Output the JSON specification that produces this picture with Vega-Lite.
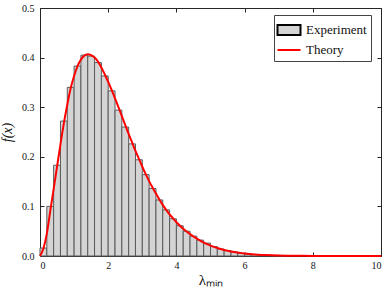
{
  "$schema": "https://vega.github.io/schema/vega-lite/v6.json",
  "width": 341,
  "height": 248,
  "autosize": "none",
  "padding": {"left": 40, "top": 8, "right": 8, "bottom": 36},
  "background": "white",
  "config": {
    "view": {"stroke": "#262626", "strokeWidth": 1},
    "font": "Liberation Serif",
    "axis": {"grid": false, "domainColor": "#262626", "tickColor": "#262626", "labelColor": "#111", "titleColor": "#111", "labelFont": "Liberation Serif", "titleFont": "Liberation Serif", "labelFontSize": 10, "titleFontWeight": "normal"},
    "legend": {"title": null, "orient": "none", "legendX": 234, "legendY": 7, "strokeColor": "#444", "fillColor": "white", "padding": 4, "labelFontSize": 13, "labelFont": "Liberation Serif", "labelColor": "#111", "symbolSize": 400, "rowPadding": -10, "labelOffset": 6, "symbolStrokeWidth": 2, "symbolOpacity": 1}
  },
  "datasets": {
    "hist": [
      {"start": 0.0, "end": 0.2, "f": 0.016},
      {"start": 0.2, "end": 0.4, "f": 0.100},
      {"start": 0.4, "end": 0.6, "f": 0.183},
      {"start": 0.6, "end": 0.8, "f": 0.272},
      {"start": 0.8, "end": 1.0, "f": 0.340},
      {"start": 1.0, "end": 1.2, "f": 0.383},
      {"start": 1.2, "end": 1.4, "f": 0.405},
      {"start": 1.4, "end": 1.6, "f": 0.403},
      {"start": 1.6, "end": 1.8, "f": 0.390},
      {"start": 1.8, "end": 2.0, "f": 0.363},
      {"start": 2.0, "end": 2.2, "f": 0.333},
      {"start": 2.2, "end": 2.4, "f": 0.294},
      {"start": 2.4, "end": 2.6, "f": 0.260},
      {"start": 2.6, "end": 2.8, "f": 0.226},
      {"start": 2.8, "end": 3.0, "f": 0.194},
      {"start": 3.0, "end": 3.2, "f": 0.164},
      {"start": 3.2, "end": 3.4, "f": 0.136},
      {"start": 3.4, "end": 3.6, "f": 0.113},
      {"start": 3.6, "end": 3.8, "f": 0.093},
      {"start": 3.8, "end": 4.0, "f": 0.075},
      {"start": 4.0, "end": 4.2, "f": 0.061},
      {"start": 4.2, "end": 4.4, "f": 0.050},
      {"start": 4.4, "end": 4.6, "f": 0.040},
      {"start": 4.6, "end": 4.8, "f": 0.032},
      {"start": 4.8, "end": 5.0, "f": 0.026},
      {"start": 5.0, "end": 5.2, "f": 0.019},
      {"start": 5.2, "end": 5.4, "f": 0.014},
      {"start": 5.4, "end": 5.6, "f": 0.011},
      {"start": 5.6, "end": 5.8, "f": 0.008},
      {"start": 5.8, "end": 6.0, "f": 0.006},
      {"start": 6.0, "end": 6.2, "f": 0.004},
      {"start": 6.2, "end": 6.4, "f": 0.003},
      {"start": 6.4, "end": 6.6, "f": 0.002},
      {"start": 6.6, "end": 6.8, "f": 0.0015},
      {"start": 6.8, "end": 7.0, "f": 0.001},
      {"start": 7.0, "end": 7.2, "f": 0.0007}
    ],
    "theory": [
      {"x": 0.0, "f": 0.0},
      {"x": 0.1, "f": 0.015},
      {"x": 0.2, "f": 0.045},
      {"x": 0.3, "f": 0.09},
      {"x": 0.4, "f": 0.135},
      {"x": 0.5, "f": 0.18},
      {"x": 0.6, "f": 0.225},
      {"x": 0.7, "f": 0.268},
      {"x": 0.8, "f": 0.305},
      {"x": 0.9, "f": 0.338},
      {"x": 1.0, "f": 0.363},
      {"x": 1.1, "f": 0.383},
      {"x": 1.2, "f": 0.396},
      {"x": 1.3, "f": 0.404},
      {"x": 1.4, "f": 0.407},
      {"x": 1.5, "f": 0.405},
      {"x": 1.6, "f": 0.400},
      {"x": 1.7, "f": 0.392},
      {"x": 1.8, "f": 0.380},
      {"x": 1.9, "f": 0.366},
      {"x": 2.0, "f": 0.351},
      {"x": 2.1, "f": 0.335},
      {"x": 2.2, "f": 0.318},
      {"x": 2.3, "f": 0.300},
      {"x": 2.4, "f": 0.282},
      {"x": 2.5, "f": 0.264},
      {"x": 2.6, "f": 0.246},
      {"x": 2.7, "f": 0.229},
      {"x": 2.8, "f": 0.212},
      {"x": 2.9, "f": 0.196},
      {"x": 3.0, "f": 0.180},
      {"x": 3.1, "f": 0.165},
      {"x": 3.2, "f": 0.151},
      {"x": 3.3, "f": 0.138},
      {"x": 3.4, "f": 0.126},
      {"x": 3.5, "f": 0.114},
      {"x": 3.6, "f": 0.103},
      {"x": 3.7, "f": 0.093},
      {"x": 3.8, "f": 0.084},
      {"x": 3.9, "f": 0.076},
      {"x": 4.0, "f": 0.068},
      {"x": 4.2, "f": 0.055},
      {"x": 4.4, "f": 0.044},
      {"x": 4.6, "f": 0.035},
      {"x": 4.8, "f": 0.027},
      {"x": 5.0, "f": 0.021},
      {"x": 5.2, "f": 0.016},
      {"x": 5.4, "f": 0.012},
      {"x": 5.6, "f": 0.009},
      {"x": 5.8, "f": 0.007},
      {"x": 6.0, "f": 0.005},
      {"x": 6.3, "f": 0.003},
      {"x": 6.6, "f": 0.002},
      {"x": 7.0, "f": 0.001},
      {"x": 7.5, "f": 0.0005},
      {"x": 8.0, "f": 0.0002},
      {"x": 9.0, "f": 0.0},
      {"x": 10.0, "f": 0.0}
    ],
    "legendkeys": []
  },
  "resolve": {"axis": {"x": "independent", "y": "independent"}},
  "layer": [
    {
      "data": {"name": "hist"},
      "mark": {"type": "bar", "fill": "#d4d4d4", "stroke": "#5a5a5a", "strokeWidth": 1, "fillOpacity": 1, "orient": "vertical"},
      "encoding": {
        "x": {"field": "start", "type": "quantitative", "scale": {"domain": [0, 10], "nice": false, "padding": 0},
          "axis": {"orient": "bottom", "title": "λₘᵢₙ", "titleFontSize": 15, "titlePadding": 2, "values": [0, 2, 4, 6, 8, 10], "tickSize": -4, "labelPadding": 8, "format": "d"}},
        "x2": {"field": "end"},
        "y": {"field": "f", "type": "quantitative", "scale": {"domain": [0, 0.5], "nice": false, "padding": 0},
          "axis": {"orient": "left", "title": "f(x)", "titleFontSize": 14, "titleFontStyle": "italic", "titlePadding": 7, "values": [0, 0.1, 0.2, 0.3, 0.4, 0.5], "format": ".1f", "tickSize": -4, "labelPadding": 10}},
        "y2": {"datum": 0}
      }
    },
    {
      "data": {"name": "theory"},
      "mark": {"type": "line", "color": "#ff0000", "strokeWidth": 2, "interpolate": "monotone"},
      "encoding": {
        "x": {"field": "x", "type": "quantitative", "scale": {"domain": [0, 10], "nice": false, "padding": 0},
          "axis": {"orient": "top", "title": null, "labels": false, "domain": false, "values": [0, 2, 4, 6, 8, 10], "tickSize": -4}},
        "y": {"field": "f", "type": "quantitative", "scale": {"domain": [0, 0.5], "nice": false, "padding": 0},
          "axis": {"orient": "right", "title": null, "labels": false, "domain": false, "values": [0, 0.1, 0.2, 0.3, 0.4, 0.5], "tickSize": -4}}
      }
    },
    {
      "data": {"name": "legendkeys"},
      "mark": {"type": "point", "filled": true, "opacity": 1},
      "encoding": {
        "x": {"field": "x", "type": "quantitative", "scale": {"domain": [0, 10], "nice": false, "padding": 0}, "axis": null},
        "y": {"field": "f", "type": "quantitative", "scale": {"domain": [0, 0.5], "nice": false, "padding": 0}, "axis": null},
        "fill": {"field": "series", "type": "nominal",
          "scale": {"domain": ["Experiment", "Theory"], "range": ["#d4d4d4", "#ff0000"]}},
        "stroke": {"field": "series", "type": "nominal",
          "scale": {"domain": ["Experiment", "Theory"], "range": ["#000000", "#ff0000"]}},
        "shape": {"field": "series", "type": "nominal",
          "scale": {"domain": ["Experiment", "Theory"], "range": ["M-1.15,-0.5H1.15V0.5H-1.15Z", "M-1.15,0H1.15"]}}
      }
    }
  ]
}
